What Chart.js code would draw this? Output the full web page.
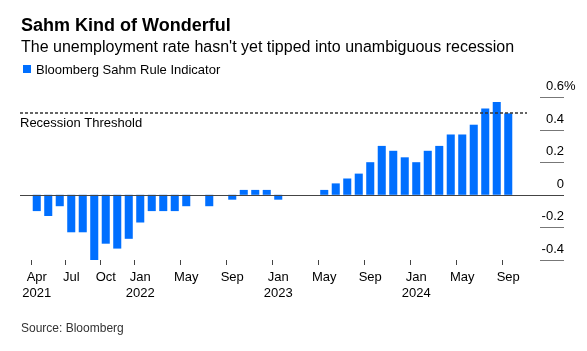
<!DOCTYPE html>
<html>
<head>
<meta charset="utf-8">
<script src="https://cdn.jsdelivr.net/npm/chart.js@4"></script>
<style>
  html, body { margin: 0; padding: 0; background: #fff; }
  #wrap { width: 587px; height: 351px; }
</style>
</head>
<body>
<div id="wrap"><canvas id="chart" width="587" height="351"></canvas></div>
<script>
// monthly readings, Apr 2021 .. Sep 2024
const months = [
  "2021-04", "2021-05", "2021-06", "2021-07", "2021-08", "2021-09", "2021-10", "2021-11", "2021-12",
  "2022-01", "2022-02", "2022-03", "2022-04", "2022-05", "2022-06", "2022-07", "2022-08", "2022-09", "2022-10", "2022-11", "2022-12",
  "2023-01", "2023-02", "2023-03", "2023-04", "2023-05", "2023-06", "2023-07", "2023-08", "2023-09", "2023-10", "2023-11", "2023-12",
  "2024-01", "2024-02", "2024-03", "2024-04", "2024-05", "2024-06", "2024-07", "2024-08", "2024-09",
];
const sahmValues = [
  -0.10, -0.13, -0.07, -0.23, -0.23, -0.40, -0.30, -0.33, -0.27,
  -0.17, -0.10, -0.10, -0.10, -0.07, 0.00, -0.07, 0.00, -0.03, 0.03, 0.03, 0.03,
  -0.03, 0.00, 0.00, 0.00, 0.03, 0.07, 0.10, 0.13, 0.20, 0.30, 0.27, 0.23,
  0.20, 0.27, 0.30, 0.37, 0.37, 0.43, 0.53, 0.57, 0.50,
];
const xTicks = ["2021-04", "2021-07", "2021-10", "2022-01", "2022-05", "2022-09", "2023-01", "2023-05", "2023-09", "2024-01", "2024-05", "2024-09"];
const yTicks = [0.6, 0.4, 0.2, 0, -0.2, -0.4];
const threshold = 0.5;

const monthNames = ["Jan", "Feb", "Mar", "Apr", "May", "Jun", "Jul", "Aug", "Sep", "Oct", "Nov", "Dec"];
const FONT = "'Liberation Sans', Arial, sans-serif";

function tickLabel(key) {
  const [year, m] = key.split("-");
  const name = monthNames[Number(m) - 1];
  if (key === months[0] || m === "01") return [name, year];
  return name;
}

const overlay = {
  id: "overlay",
  afterDatasetsDraw(chart) {
    const { ctx, chartArea } = chart;
    const y = chart.scales.y;
    ctx.save();

    // y axis tick lines + labels on the right
    ctx.font = "13px " + FONT;
    ctx.fillStyle = "#000";
    ctx.textBaseline = "alphabetic";
    yTicks.forEach((v, i) => {
      const py = Math.round(y.getPixelForValue(v)) + 0.5;
      ctx.strokeStyle = "#777";
      ctx.lineWidth = 1;
      ctx.beginPath();
      ctx.moveTo(540, py);
      ctx.lineTo(564, py);
      ctx.stroke();
      const txt = v === 0 ? "0" : v.toFixed(1);
      ctx.textAlign = "right";
      ctx.fillText(txt, 564, py - 7.5);
      if (i === 0) {
        ctx.textAlign = "left";
        ctx.fillText("%", 564, py - 7.5);
      }
    });

    // zero line
    const y0 = Math.round(y.getPixelForValue(0)) + 0.5;
    ctx.strokeStyle = "#444";
    ctx.lineWidth = 1;
    ctx.beginPath();
    ctx.moveTo(20, y0);
    ctx.lineTo(564, y0);
    ctx.stroke();

    // recession threshold
    const yt = Math.round(y.getPixelForValue(threshold));
    ctx.strokeStyle = "#333";
    ctx.lineWidth = 1.5;
    ctx.setLineDash([3, 2]);
    ctx.beginPath();
    ctx.moveTo(20, yt);
    ctx.lineTo(527, yt);
    ctx.stroke();
    ctx.setLineDash([]);
    ctx.textAlign = "left";
    ctx.fillStyle = "#000";
    ctx.font = "13px " + FONT;
    ctx.fillText("Recession Threshold", 20, yt + 14);

    // header
    ctx.font = "bold 18px " + FONT;
    ctx.fillText("Sahm Kind of Wonderful", 21, 30.5);
    ctx.font = "16px " + FONT;
    ctx.fillText("The unemployment rate hasn't yet tipped into unambiguous recession", 21, 52);
    ctx.fillStyle = "#006fff";
    ctx.fillRect(23, 65, 8, 8);
    ctx.fillStyle = "#000";
    ctx.font = "13px " + FONT;
    ctx.fillText("Bloomberg Sahm Rule Indicator", 36, 73.5);

    // footer
    ctx.fillStyle = "#333";
    ctx.font = "12px " + FONT;
    ctx.fillText("Source: Bloomberg", 21, 332);
    ctx.restore();
  },
};

new Chart(document.getElementById("chart"), {
  type: "bar",
  data: {
    labels: months,
    datasets: [
      {
        label: "Bloomberg Sahm Rule Indicator",
        data: sahmValues,
        backgroundColor: "#006fff",
        borderWidth: 0,
        categoryPercentage: 1,
        barPercentage: 0.7,
      },
    ],
  },
  options: {
    responsive: false,
    animation: false,
    devicePixelRatio: 1,
    layout: { padding: { left: 31, top: 97, right: 0, bottom: 0 } },
    plugins: {
      legend: { display: false },
      tooltip: { enabled: false },
    },
    scales: {
      x: {
        offset: true,
        border: { display: false },
        grid: {
          drawOnChartArea: false,
          drawTicks: true,
          tickLength: 5,
          color: (c) => (xTicks.includes(months[c.index]) ? "#444" : "rgba(0,0,0,0)"),
        },
        ticks: {
          autoSkip: false,
          maxRotation: 0,
          padding: 4,
          color: "#000",
          font: { family: FONT, size: 13, lineHeight: 1.23 },
          callback: (val, i) => (xTicks.includes(months[i]) ? tickLabel(months[i]) : ""),
        },
        afterFit: (scale) => {
          scale.height = 91;
        },
      },
      y: {
        position: "right",
        min: -0.4,
        max: 0.6,
        border: { display: false },
        grid: { display: false },
        ticks: { display: false },
        afterFit: (scale) => {
          scale.width = 73;
        },
      },
    },
  },
  plugins: [overlay],
});
</script>
</body>
</html>
